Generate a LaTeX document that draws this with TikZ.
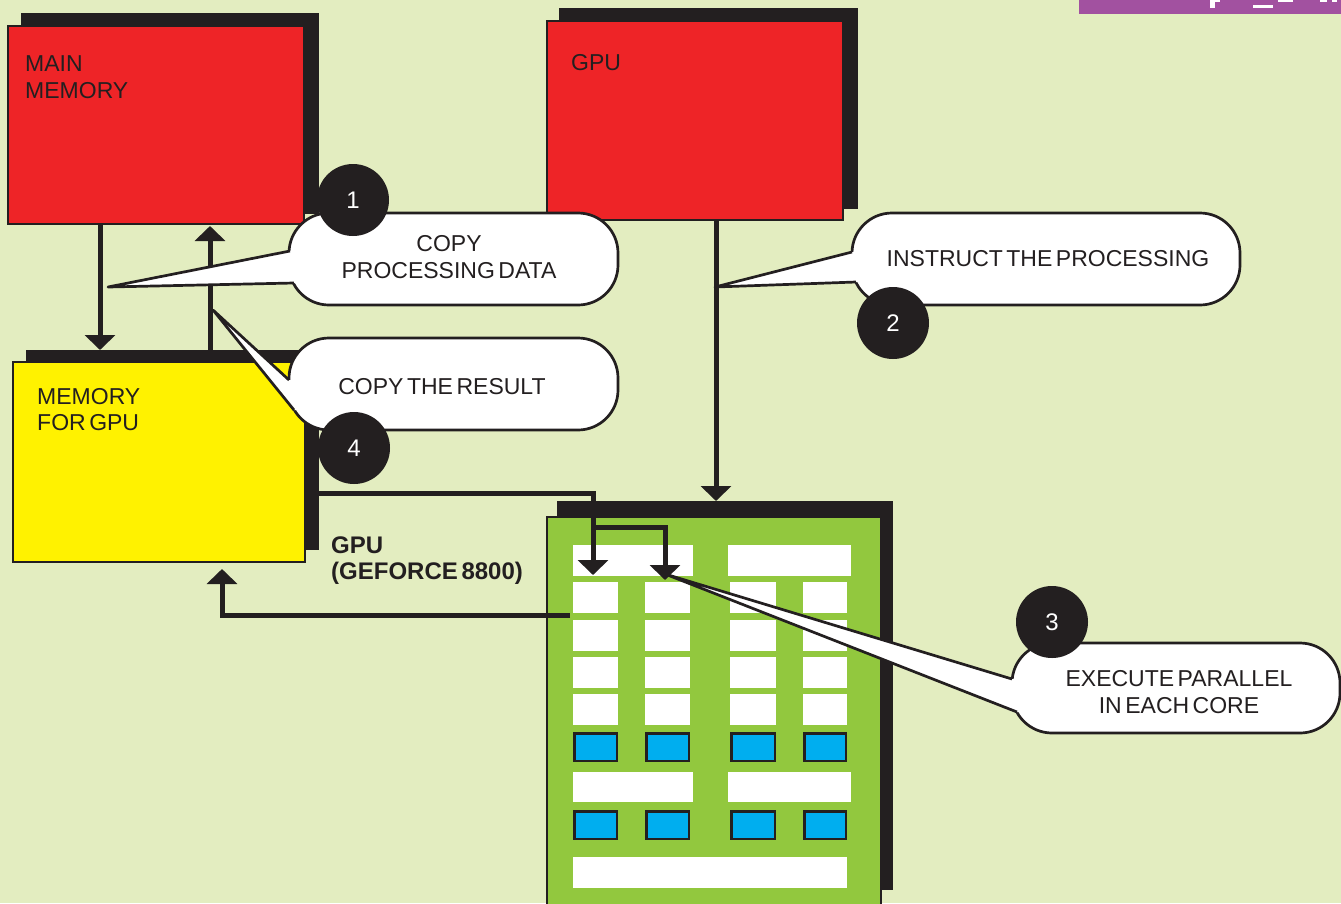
\documentclass[tikz,border=0pt]{standalone}
\usepackage{fontspec}
\setmainfont{Liberation Sans}[WordSpace=0.55]
\usetikzlibrary{arrows.meta,calc}
\definecolor{bg}{RGB}{227,237,192}
\definecolor{ink}{RGB}{35,31,32}
\definecolor{redbox}{RGB}{238,36,39}
\definecolor{yelbox}{RGB}{255,242,0}
\definecolor{greenbox}{RGB}{146,200,62}
\definecolor{cyanbox}{RGB}{0,174,239}
\definecolor{purplebar}{RGB}{162,81,160}
\tikzset{
  shadowbox/.style={fill=ink, inner sep=0pt, outer sep=0pt, anchor=north west},
  panel/.style={draw=ink, line width=1.5pt, inner sep=0pt, outer sep=0pt, anchor=north west},
  boxlabel/.style={font=\fontsize{23}{27}\selectfont, text=ink, align=left, inner sep=0pt, anchor=north west},
  bubble/.style={draw=ink, fill=white, line width=2.7pt, rounded corners=40pt, inner sep=0pt, outer sep=0pt},
  bubbletext/.style={font=\fontsize{23}{27}\selectfont, text=ink, align=center, inner sep=0pt, anchor=north},
  badge/.style={circle, fill=ink, minimum size=72pt, inner sep=0pt, text=white, font=\fontsize{24}{28}\selectfont},
  wire/.style={draw=ink, line width=5pt},
  arrowwire/.style={wire, -{Triangle[width=30pt,length=15pt]}},
  wedgeline/.style={draw=ink, line width=2.7pt, line join=round},
  cellb/.style={fill=cyanbox, draw=ink, line width=2.5pt},
}
\newcommand{\calloutwedge}[3]{%
  \fill[white] (#1) -- (#2) -- ($(#2)+(16,0)$) -- ($(#3)+(16,0)$) -- (#3) -- cycle;
  \draw[wedgeline] (#2) -- (#1) -- (#3);
}
\begin{document}
\begin{tikzpicture}[x=1pt,y=-1pt]
\useasboundingbox (0,0) rectangle (1341,903);
\clip (0,0) rectangle (1341,903);
\fill[bg] (0,0) rectangle (1341,903);
% purple bar (cut-off)
\fill[purplebar] (1079,0) rectangle (1341,14);
\fill[white] (1210,0) rectangle (1215,8);
\fill[white] (1210,0) rectangle (1220,2);
\fill[white] (1253,5) rectangle (1273,8);
\fill[white] (1278,0) rectangle (1293,1.5);
\fill[white] (1320,0) rectangle (1327,1.5);
\fill[white] (1332,0) rectangle (1337,1.5);

% main memory
\node[shadowbox, minimum width=298pt, minimum height=201pt] (mmshadow) at (21,13) {};
\node[panel, fill=redbox, minimum width=296pt, minimum height=198pt] (mainmem) at (8,26) {};
% gpu
\node[shadowbox, minimum width=299pt, minimum height=201pt] (gpushadow) at (559,8) {};
\node[panel, fill=redbox, minimum width=296pt, minimum height=199pt] (gpu) at (547,21) {};
% memory for gpu
\node[shadowbox, minimum width=293pt, minimum height=200pt] (mgshadow) at (26,350) {};
\node[panel, fill=yelbox, minimum width=292pt, minimum height=200pt] (memgpu) at (13,362) {};
% board
\node[shadowbox, minimum width=336pt, minimum height=389pt] (bdshadow) at (557,501) {};
\node[panel, fill=greenbox, minimum width=334pt, minimum height=403pt] (board) at (547,517) {};

% board cells
\fill[white] (573,545) rectangle (693,576);
\fill[white] (728,545) rectangle (851,576);
\foreach \yy in {582,620,657,694}{
  \foreach \xx/\ww in {573/45,645/45,730/46,803/44}{
    \fill[white] (\xx,\yy) rectangle ++(\ww,31);
  }
}
\fill[white] (573,772) rectangle (693,802);
\fill[white] (728,772) rectangle (851,802);
\fill[white] (573,857) rectangle (847,888);
\foreach \yy in {733.25,811.25}{
  \foreach \xx/\ww in {573/45,645/45,730/46,803/44}{
    \draw[cellb] (\xx+1.25,\yy) rectangle ++(\ww-2.5,27.5);
  }
}

% connectors
\coordinate (xa) at (100,0);
\coordinate (xb) at (210,0);
\coordinate (xc) at (716,0);
\draw[arrowwire] (mainmem.south -| xa) -- (mgshadow.north -| xa);
\draw[arrowwire] (mgshadow.north -| xb) -- ($(mainmem.south -| xb)+(0,2)$);
\draw[arrowwire] (gpu.south -| xc) -- (bdshadow.north -| xc);
\coordinate (j1) at (593,493.5);
\coordinate (core1) at (593,575);
\coordinate (j2) at (593,527);
\coordinate (j3) at (665,527);
\coordinate (core2) at (665,580);
\draw[arrowwire] (mgshadow.east |- j1) -- (j1) -- (core1);
\draw[arrowwire] (j2) -- (j3) -- (core2);
\coordinate (ret) at (570,615.5);
\coordinate (rettip) at (222,569);
\draw[arrowwire] (ret) -| (rettip);

% callout bubbles
\node[bubble, minimum width=329pt, minimum height=92pt] (b1) at (453.5,259) {};
\node[bubble, minimum width=329pt, minimum height=92pt] (b4) at (453.5,384) {};
\node[bubble, minimum width=388pt, minimum height=92pt] (b2) at (1046,259) {};
\node[bubble, minimum width=328pt, minimum height=90pt] (b3) at (1176,688) {};

% pointers
\coordinate (t1) at (108,287);
\coordinate (w1a) at ($(b1.west)+(1,-8)$);
\coordinate (w1b) at ($(b1.west)+(5,24)$);
\calloutwedge{t1}{w1a}{w1b}
\coordinate (t4) at (213,310);
\coordinate (w4a) at ($(b4.west)+(0,-4)$);
\coordinate (w4b) at ($(b4.west)+(5,26)$);
\calloutwedge{t4}{w4a}{w4b}
\coordinate (t2) at (715,287);
\coordinate (w2a) at ($(b2.west)+(0,-7)$);
\coordinate (w2b) at ($(b2.west)+(4,23)$);
\calloutwedge{t2}{w2a}{w2b}
\coordinate (t3) at (665,574);
\coordinate (w3a) at ($(b3.west)+(0,-9)$);
\coordinate (w3b) at ($(b3.west)+(5,24)$);
\calloutwedge{t3}{w3a}{w3b}

% badges
\node[badge] (n1) at (353,200) {1};
\node[badge] (n2) at (893,323) {2};
\node[badge] (n3) at (1052,622) {3};
\node[badge] (n4) at (354,448) {4};

% labels
\node[boxlabel] (mmlabel) at (25,55) {MAIN\\MEMORY};
\node[boxlabel] (gpulabel) at (571,54) {GPU};
\node[boxlabel, font=\fontsize{23}{26}\selectfont] (mglabel) at (37,388) {MEMORY\\FOR GPU};
\node[boxlabel, font=\bfseries\fontsize{24}{26}\selectfont] (boardlabel) at (331,537) {GPU\\(GEFORCE 8800)};
\node[bubbletext] (b1t) at (449,235) {COPY\\PROCESSING DATA};
\node[bubbletext] (b4t) at (442,378) {COPY THE RESULT};
\node[bubbletext] (b2t) at (1048,250) {INSTRUCT THE PROCESSING};
\node[bubbletext] (b3t) at (1179,670) {EXECUTE PARALLEL\\IN EACH CORE};
\end{tikzpicture}
\end{document}
